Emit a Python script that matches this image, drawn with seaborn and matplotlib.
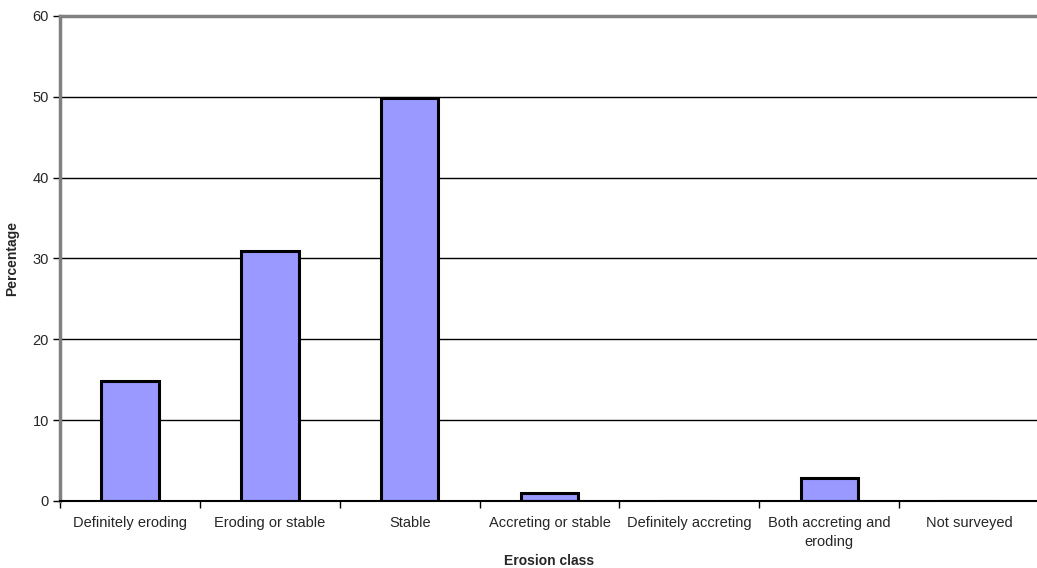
import pandas as pd
import matplotlib
matplotlib.use("Agg")
import matplotlib.pyplot as plt
import seaborn as sns
import numpy as np

sns.set_theme(style="white")
plt.rcParams['font.family'] = ['Liberation Sans', 'DejaVu Sans']

# dane
klasy = ['Definitely eroding', 'Eroding or stable', 'Stable', 'Accreting or stable',
         'Definitely accreting', 'Both accreting and\neroding', 'Not surveyed']
procent = [14.85, 30.9, 49.9, 0.95, 0.0, 2.9, 0.0]
y_ticks = [0, 10, 20, 30, 40, 50, 60]

df = pd.DataFrame({'klasa': klasy, 'procent': procent})

fig = plt.figure(figsize=(10.37, 5.68), dpi=100)
ax = fig.add_axes([0.0579, 0.118, 0.9441, 0.854])

# siatka pozioma
for v in y_ticks[1:-1]:
    ax.axhline(v, color='black', linewidth=1.0, zorder=0)

sns.barplot(data=df, x='klasa', y='procent', color='#9999FF', edgecolor='black',
            linewidth=2.2, width=0.41, saturation=1, ax=ax, zorder=2)

ax.set_ylim(0, 60)
ax.set_xlim(-0.5, len(klasy) - 0.5)
ax.set_yticks(y_ticks)
ax.set_xticks(range(len(klasy)))
ax.set_xticklabels(klasy, fontsize=10.5)
ax.set_xticks(np.arange(-0.5, len(klasy), 1), minor=True)
ax.tick_params(axis='x', which='major', length=0, pad=11)
ax.tick_params(axis='x', which='minor', length=5, width=1, color='black', direction='out', bottom=True)
ax.tick_params(axis='y', length=5, width=1, color='black', direction='out', left=True, labelsize=10.5, pad=3)

for lbl in ax.get_xticklabels():
    lbl.set_linespacing(1.4)

ax.spines['top'].set_color('#808080')
ax.spines['top'].set_linewidth(2.5)
ax.spines['left'].set_color('#808080')
ax.spines['left'].set_linewidth(2.5)
ax.spines['bottom'].set_color('black')
ax.spines['bottom'].set_linewidth(1.5)
ax.spines['right'].set_visible(False)

ax.set_xlabel('Erosion class', fontsize=10, fontweight='bold', labelpad=4)
ax.set_ylabel('Percentage', fontsize=10, fontweight='bold', labelpad=10)
ax.grid(False)

fig.savefig('out.png', dpi=100)
